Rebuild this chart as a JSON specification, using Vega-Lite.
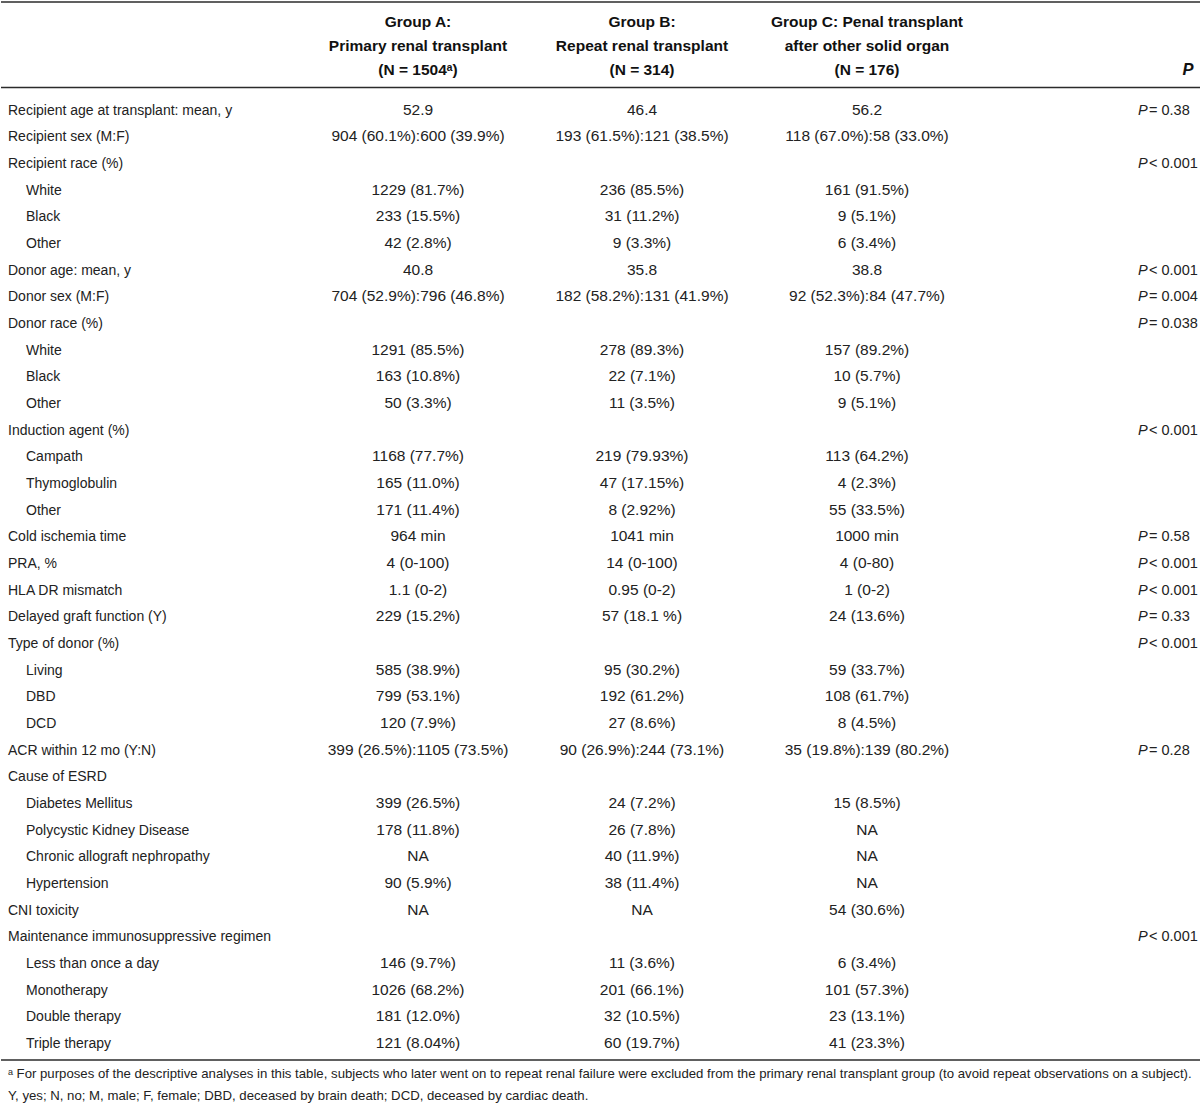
{
  "$schema": "https://vega.github.io/schema/vega-lite/v6.json",
  "width": 1200,
  "height": 1111,
  "autosize": {"type": "fit", "contains": "padding"},
  "padding": 0,
  "background": "white",
  "config": {"view": {"stroke": null}},
  "datasets": {
    "rules": [{"l": 0, "c": -1, "c2": 8}, {"l": 4, "c": -1, "c2": 8}, {"l": 41, "c": -1, "c2": 8}],
    "cells": [
      {"l": 1, "c": 2, "k": "h", "t": "Group A:"},
      {"l": 2, "c": 2, "k": "h", "t": "Primary renal transplant"},
      {"l": 3, "c": 2, "k": "h", "t": "(N = 1504ᵃ)"},
      {"l": 1, "c": 3, "k": "h", "t": "Group B:"},
      {"l": 2, "c": 3, "k": "h", "t": "Repeat renal transplant"},
      {"l": 3, "c": 3, "k": "h", "t": "(N = 314)"},
      {"l": 1, "c": 4, "k": "h", "t": "Group C: Penal transplant"},
      {"l": 2, "c": 4, "k": "h", "t": "after other solid organ"},
      {"l": 3, "c": 4, "k": "h", "t": "(N = 176)"},
      {"l": 3, "c": 7, "k": "hp", "t": "P"},

      {"l": 5, "c": 0, "k": "lab", "t": "Recipient age at transplant: mean, y"},
      {"l": 5, "c": 2, "k": "val", "t": "52.9"},
      {"l": 5, "c": 3, "k": "val", "t": "46.4"},
      {"l": 5, "c": 4, "k": "val", "t": "56.2"},
      {"l": 5, "c": 5, "k": "p", "t": "P"},
      {"l": 5, "c": 6, "k": "pv", "t": "= 0.38"},

      {"l": 6, "c": 0, "k": "lab", "t": "Recipient sex (M:F)"},
      {"l": 6, "c": 2, "k": "val", "t": "904 (60.1%):600 (39.9%)"},
      {"l": 6, "c": 3, "k": "val", "t": "193 (61.5%):121 (38.5%)"},
      {"l": 6, "c": 4, "k": "val", "t": "118 (67.0%):58 (33.0%)"},

      {"l": 7, "c": 0, "k": "lab", "t": "Recipient race (%)"},
      {"l": 7, "c": 5, "k": "p", "t": "P"},
      {"l": 7, "c": 6, "k": "pv", "t": "< 0.001"},

      {"l": 8, "c": 1, "k": "lab", "t": "White"},
      {"l": 8, "c": 2, "k": "val", "t": "1229 (81.7%)"},
      {"l": 8, "c": 3, "k": "val", "t": "236 (85.5%)"},
      {"l": 8, "c": 4, "k": "val", "t": "161 (91.5%)"},

      {"l": 9, "c": 1, "k": "lab", "t": "Black"},
      {"l": 9, "c": 2, "k": "val", "t": "233 (15.5%)"},
      {"l": 9, "c": 3, "k": "val", "t": "31 (11.2%)"},
      {"l": 9, "c": 4, "k": "val", "t": "9 (5.1%)"},

      {"l": 10, "c": 1, "k": "lab", "t": "Other"},
      {"l": 10, "c": 2, "k": "val", "t": "42 (2.8%)"},
      {"l": 10, "c": 3, "k": "val", "t": "9 (3.3%)"},
      {"l": 10, "c": 4, "k": "val", "t": "6 (3.4%)"},

      {"l": 11, "c": 0, "k": "lab", "t": "Donor age: mean, y"},
      {"l": 11, "c": 2, "k": "val", "t": "40.8"},
      {"l": 11, "c": 3, "k": "val", "t": "35.8"},
      {"l": 11, "c": 4, "k": "val", "t": "38.8"},
      {"l": 11, "c": 5, "k": "p", "t": "P"},
      {"l": 11, "c": 6, "k": "pv", "t": "< 0.001"},

      {"l": 12, "c": 0, "k": "lab", "t": "Donor sex (M:F)"},
      {"l": 12, "c": 2, "k": "val", "t": "704 (52.9%):796 (46.8%)"},
      {"l": 12, "c": 3, "k": "val", "t": "182 (58.2%):131 (41.9%)"},
      {"l": 12, "c": 4, "k": "val", "t": "92 (52.3%):84 (47.7%)"},
      {"l": 12, "c": 5, "k": "p", "t": "P"},
      {"l": 12, "c": 6, "k": "pv", "t": "= 0.004"},

      {"l": 13, "c": 0, "k": "lab", "t": "Donor race (%)"},
      {"l": 13, "c": 5, "k": "p", "t": "P"},
      {"l": 13, "c": 6, "k": "pv", "t": "= 0.038"},

      {"l": 14, "c": 1, "k": "lab", "t": "White"},
      {"l": 14, "c": 2, "k": "val", "t": "1291 (85.5%)"},
      {"l": 14, "c": 3, "k": "val", "t": "278 (89.3%)"},
      {"l": 14, "c": 4, "k": "val", "t": "157 (89.2%)"},

      {"l": 15, "c": 1, "k": "lab", "t": "Black"},
      {"l": 15, "c": 2, "k": "val", "t": "163 (10.8%)"},
      {"l": 15, "c": 3, "k": "val", "t": "22 (7.1%)"},
      {"l": 15, "c": 4, "k": "val", "t": "10 (5.7%)"},

      {"l": 16, "c": 1, "k": "lab", "t": "Other"},
      {"l": 16, "c": 2, "k": "val", "t": "50 (3.3%)"},
      {"l": 16, "c": 3, "k": "val", "t": "11 (3.5%)"},
      {"l": 16, "c": 4, "k": "val", "t": "9 (5.1%)"},

      {"l": 17, "c": 0, "k": "lab", "t": "Induction agent (%)"},
      {"l": 17, "c": 5, "k": "p", "t": "P"},
      {"l": 17, "c": 6, "k": "pv", "t": "< 0.001"},

      {"l": 18, "c": 1, "k": "lab", "t": "Campath"},
      {"l": 18, "c": 2, "k": "val", "t": "1168 (77.7%)"},
      {"l": 18, "c": 3, "k": "val", "t": "219 (79.93%)"},
      {"l": 18, "c": 4, "k": "val", "t": "113 (64.2%)"},

      {"l": 19, "c": 1, "k": "lab", "t": "Thymoglobulin"},
      {"l": 19, "c": 2, "k": "val", "t": "165 (11.0%)"},
      {"l": 19, "c": 3, "k": "val", "t": "47 (17.15%)"},
      {"l": 19, "c": 4, "k": "val", "t": "4 (2.3%)"},

      {"l": 20, "c": 1, "k": "lab", "t": "Other"},
      {"l": 20, "c": 2, "k": "val", "t": "171 (11.4%)"},
      {"l": 20, "c": 3, "k": "val", "t": "8 (2.92%)"},
      {"l": 20, "c": 4, "k": "val", "t": "55 (33.5%)"},

      {"l": 21, "c": 0, "k": "lab", "t": "Cold ischemia time"},
      {"l": 21, "c": 2, "k": "val", "t": "964 min"},
      {"l": 21, "c": 3, "k": "val", "t": "1041 min"},
      {"l": 21, "c": 4, "k": "val", "t": "1000 min"},
      {"l": 21, "c": 5, "k": "p", "t": "P"},
      {"l": 21, "c": 6, "k": "pv", "t": "= 0.58"},

      {"l": 22, "c": 0, "k": "lab", "t": "PRA, %"},
      {"l": 22, "c": 2, "k": "val", "t": "4 (0-100)"},
      {"l": 22, "c": 3, "k": "val", "t": "14 (0-100)"},
      {"l": 22, "c": 4, "k": "val", "t": "4 (0-80)"},
      {"l": 22, "c": 5, "k": "p", "t": "P"},
      {"l": 22, "c": 6, "k": "pv", "t": "< 0.001"},

      {"l": 23, "c": 0, "k": "lab", "t": "HLA DR mismatch"},
      {"l": 23, "c": 2, "k": "val", "t": "1.1 (0-2)"},
      {"l": 23, "c": 3, "k": "val", "t": "0.95 (0-2)"},
      {"l": 23, "c": 4, "k": "val", "t": "1 (0-2)"},
      {"l": 23, "c": 5, "k": "p", "t": "P"},
      {"l": 23, "c": 6, "k": "pv", "t": "< 0.001"},

      {"l": 24, "c": 0, "k": "lab", "t": "Delayed graft function (Y)"},
      {"l": 24, "c": 2, "k": "val", "t": "229 (15.2%)"},
      {"l": 24, "c": 3, "k": "val", "t": "57 (18.1 %)"},
      {"l": 24, "c": 4, "k": "val", "t": "24 (13.6%)"},
      {"l": 24, "c": 5, "k": "p", "t": "P"},
      {"l": 24, "c": 6, "k": "pv", "t": "= 0.33"},

      {"l": 25, "c": 0, "k": "lab", "t": "Type of donor (%)"},
      {"l": 25, "c": 5, "k": "p", "t": "P"},
      {"l": 25, "c": 6, "k": "pv", "t": "< 0.001"},

      {"l": 26, "c": 1, "k": "lab", "t": "Living"},
      {"l": 26, "c": 2, "k": "val", "t": "585 (38.9%)"},
      {"l": 26, "c": 3, "k": "val", "t": "95 (30.2%)"},
      {"l": 26, "c": 4, "k": "val", "t": "59 (33.7%)"},

      {"l": 27, "c": 1, "k": "lab", "t": "DBD"},
      {"l": 27, "c": 2, "k": "val", "t": "799 (53.1%)"},
      {"l": 27, "c": 3, "k": "val", "t": "192 (61.2%)"},
      {"l": 27, "c": 4, "k": "val", "t": "108 (61.7%)"},

      {"l": 28, "c": 1, "k": "lab", "t": "DCD"},
      {"l": 28, "c": 2, "k": "val", "t": "120 (7.9%)"},
      {"l": 28, "c": 3, "k": "val", "t": "27 (8.6%)"},
      {"l": 28, "c": 4, "k": "val", "t": "8 (4.5%)"},

      {"l": 29, "c": 0, "k": "lab", "t": "ACR within 12 mo (Y:N)"},
      {"l": 29, "c": 2, "k": "val", "t": "399 (26.5%):1105 (73.5%)"},
      {"l": 29, "c": 3, "k": "val", "t": "90 (26.9%):244 (73.1%)"},
      {"l": 29, "c": 4, "k": "val", "t": "35 (19.8%):139 (80.2%)"},
      {"l": 29, "c": 5, "k": "p", "t": "P"},
      {"l": 29, "c": 6, "k": "pv", "t": "= 0.28"},

      {"l": 30, "c": 0, "k": "lab", "t": "Cause of ESRD"},

      {"l": 31, "c": 1, "k": "lab", "t": "Diabetes Mellitus"},
      {"l": 31, "c": 2, "k": "val", "t": "399 (26.5%)"},
      {"l": 31, "c": 3, "k": "val", "t": "24 (7.2%)"},
      {"l": 31, "c": 4, "k": "val", "t": "15 (8.5%)"},

      {"l": 32, "c": 1, "k": "lab", "t": "Polycystic Kidney Disease"},
      {"l": 32, "c": 2, "k": "val", "t": "178 (11.8%)"},
      {"l": 32, "c": 3, "k": "val", "t": "26 (7.8%)"},
      {"l": 32, "c": 4, "k": "val", "t": "NA"},

      {"l": 33, "c": 1, "k": "lab", "t": "Chronic allograft nephropathy"},
      {"l": 33, "c": 2, "k": "val", "t": "NA"},
      {"l": 33, "c": 3, "k": "val", "t": "40 (11.9%)"},
      {"l": 33, "c": 4, "k": "val", "t": "NA"},

      {"l": 34, "c": 1, "k": "lab", "t": "Hypertension"},
      {"l": 34, "c": 2, "k": "val", "t": "90 (5.9%)"},
      {"l": 34, "c": 3, "k": "val", "t": "38 (11.4%)"},
      {"l": 34, "c": 4, "k": "val", "t": "NA"},

      {"l": 35, "c": 0, "k": "lab", "t": "CNI toxicity"},
      {"l": 35, "c": 2, "k": "val", "t": "NA"},
      {"l": 35, "c": 3, "k": "val", "t": "NA"},
      {"l": 35, "c": 4, "k": "val", "t": "54 (30.6%)"},

      {"l": 36, "c": 0, "k": "lab", "t": "Maintenance immunosuppressive regimen"},
      {"l": 36, "c": 5, "k": "p", "t": "P"},
      {"l": 36, "c": 6, "k": "pv", "t": "< 0.001"},

      {"l": 37, "c": 1, "k": "lab", "t": "Less than once a day"},
      {"l": 37, "c": 2, "k": "val", "t": "146 (9.7%)"},
      {"l": 37, "c": 3, "k": "val", "t": "11 (3.6%)"},
      {"l": 37, "c": 4, "k": "val", "t": "6 (3.4%)"},

      {"l": 38, "c": 1, "k": "lab", "t": "Monotherapy"},
      {"l": 38, "c": 2, "k": "val", "t": "1026 (68.2%)"},
      {"l": 38, "c": 3, "k": "val", "t": "201 (66.1%)"},
      {"l": 38, "c": 4, "k": "val", "t": "101 (57.3%)"},

      {"l": 39, "c": 1, "k": "lab", "t": "Double therapy"},
      {"l": 39, "c": 2, "k": "val", "t": "181 (12.0%)"},
      {"l": 39, "c": 3, "k": "val", "t": "32 (10.5%)"},
      {"l": 39, "c": 4, "k": "val", "t": "23 (13.1%)"},

      {"l": 40, "c": 1, "k": "lab", "t": "Triple therapy"},
      {"l": 40, "c": 2, "k": "val", "t": "121 (8.04%)"},
      {"l": 40, "c": 3, "k": "val", "t": "60 (19.7%)"},
      {"l": 40, "c": 4, "k": "val", "t": "41 (23.3%)"},

      {"l": 42, "c": 0, "k": "f", "t": "ᵃ For purposes of the descriptive analyses in this table, subjects who later went on to repeat renal failure were excluded from the primary renal transplant group (to avoid repeat observations on a subject)."},
      {"l": 43, "c": 0, "k": "f", "t": "Y, yes; N, no; M, male; F, female; DBD, deceased by brain death; DCD, deceased by cardiac death."}
    ]
  },
  "encoding": {
    "y": {
      "field": "l", "type": "quantitative", "axis": null,
      "scale": {
        "domain": [0, 1, 2, 3, 4, 5, 40, 41, 42, 43],
        "range": [2, 27, 51, 75, 87.5, 114.5, 1048, 1060, 1078, 1100],
        "zero": false, "nice": false
      }
    },
    "x": {
      "field": "c", "type": "quantitative", "axis": null,
      "scale": {
        "domain": [-1, 0, 1, 2, 3, 4, 5, 6, 7, 8],
        "range": [0, 7, 25, 417, 641, 866, 1137, 1148, 1187, 1200],
        "zero": false, "nice": false
      }
    }
  },
  "layer": [
    {
      "data": {"name": "rules"},
      "mark": {"type": "rule", "stroke": "#2b2b2b", "strokeWidth": 1.6},
      "encoding": {"x2": {"field": "c2"}}
    },
    {
      "data": {"name": "cells"},
      "encoding": {"text": {"field": "t"}},
      "layer": [
        {
          "transform": [{"filter": "datum.k == 'h'"}],
          "mark": {"type": "text", "align": "center", "baseline": "alphabetic", "font": "Liberation Sans, Arial, sans-serif", "fontSize": 15.5, "fontWeight": "bold", "fill": "#111"}
        },
        {
          "transform": [{"filter": "datum.k == 'hp'"}],
          "mark": {"type": "text", "align": "center", "baseline": "alphabetic", "font": "Liberation Sans, Arial, sans-serif", "fontSize": 16.5, "fontWeight": "bold", "fontStyle": "italic", "fill": "#111"}
        },
        {
          "transform": [{"filter": "datum.k == 'lab'"}],
          "mark": {"type": "text", "align": "left", "baseline": "alphabetic", "font": "Liberation Sans, Arial, sans-serif", "fontSize": 14, "fill": "#222"}
        },
        {
          "transform": [{"filter": "datum.k == 'val'"}],
          "mark": {"type": "text", "align": "center", "baseline": "alphabetic", "font": "Liberation Sans, Arial, sans-serif", "fontSize": 15.5, "fill": "#222"}
        },
        {
          "transform": [{"filter": "datum.k == 'p'"}],
          "mark": {"type": "text", "align": "left", "baseline": "alphabetic", "font": "Liberation Sans, Arial, sans-serif", "fontSize": 14.5, "fontStyle": "italic", "fill": "#222"}
        },
        {
          "transform": [{"filter": "datum.k == 'pv'"}],
          "mark": {"type": "text", "align": "left", "baseline": "alphabetic", "font": "Liberation Sans, Arial, sans-serif", "fontSize": 14.5, "fill": "#222"}
        },
        {
          "transform": [{"filter": "datum.k == 'f'"}],
          "mark": {"type": "text", "align": "left", "baseline": "alphabetic", "font": "Liberation Sans, Arial, sans-serif", "fontSize": 13.2, "fill": "#222"}
        }
      ]
    }
  ]
}
